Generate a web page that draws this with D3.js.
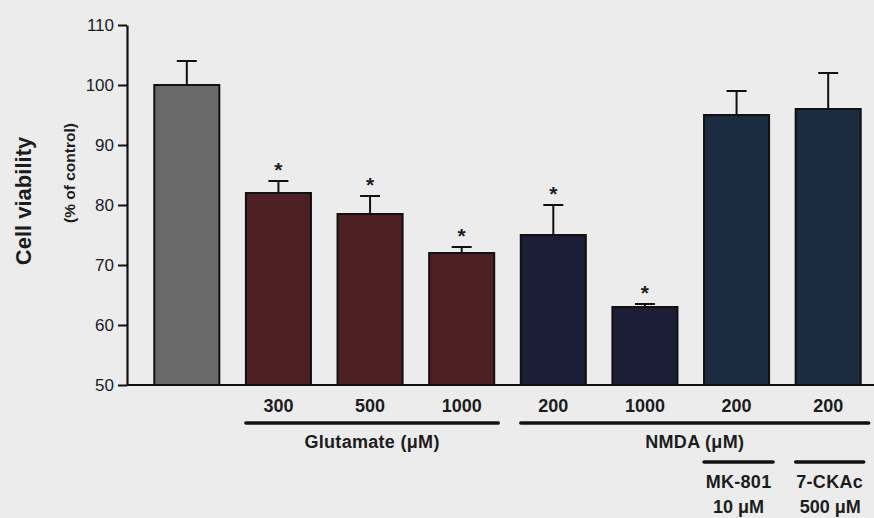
<!DOCTYPE html>
<html>
<head>
<meta charset="utf-8">
<script src="https://cdn.jsdelivr.net/npm/d3@7/dist/d3.min.js"></script>
<style>
  html, body { margin: 0; padding: 0; background: #ececec; }
  svg { display: block; }
  text { font-family: "Liberation Sans", Arial, sans-serif; fill: #1c1c1c; }
</style>
</head>
<body>
<svg id="chart" width="874" height="518"></svg>
<script>
// Treatment groups, left to right
const categories = ["control", "glu300", "glu500", "glu1000", "nmda200", "nmda1000", "nmda200_mk801", "nmda200_7ckac"];
const doseLabels = ["", "300", "500", "1000", "200", "1000", "200", "200"];
// Mean cell viability (% of control) and upper error (SEM)
const meanValues = [100, 82, 78.5, 72, 75, 63, 95, 96];
const errorValues = [4, 2, 3, 1, 5, 0.5, 4, 6];
const significant = [false, true, true, true, true, true, false, false];
const barColors = ["#6a6a6a", "#4d2024", "#4d2024", "#4d2024", "#1b1e36", "#1b1e36", "#1c2c40", "#1c2c40"];
const yTicks = [50, 60, 70, 80, 90, 100, 110];

const svg = d3.select("#chart");
const axisX = 127, baseY = 385, topY = 25;

const x = d3.scaleBand()
  .domain(categories)
  .range([141, 874])
  .paddingInner(0.29)
  .paddingOuter(0.145);

const y = d3.scaleLinear().domain([50, 110]).range([baseY, topY]);

// Bars
svg.selectAll("rect.bar")
  .data(categories)
  .join("rect")
  .attr("class", "bar")
  .attr("x", d => x(d))
  .attr("y", (d, i) => y(meanValues[i]))
  .attr("width", x.bandwidth())
  .attr("height", (d, i) => baseY - y(meanValues[i]))
  .attr("fill", (d, i) => barColors[i])
  .attr("stroke", "#111")
  .attr("stroke-width", 2);

// Upper error bars
const capHalf = 10;
const err = svg.append("g").attr("stroke", "#111").attr("stroke-width", 2);
categories.forEach((c, i) => {
  const cx = x(c) + x.bandwidth() / 2;
  const top = y(meanValues[i] + errorValues[i]);
  err.append("line").attr("x1", cx).attr("x2", cx).attr("y1", y(meanValues[i])).attr("y2", top);
  err.append("line").attr("x1", cx - capHalf).attr("x2", cx + capHalf).attr("y1", top).attr("y2", top);
});

// Significance markers
svg.selectAll("text.star")
  .data(categories.filter((c, i) => significant[i]))
  .join("text")
  .attr("class", "star")
  .attr("x", d => x(d) + x.bandwidth() / 2)
  .attr("y", d => { const i = categories.indexOf(d); return y(meanValues[i] + errorValues[i]) - 4; })
  .attr("text-anchor", "middle")
  .attr("font-size", 21)
  .attr("font-weight", "bold")
  .text("*");

// Y axis
const yAxis = d3.axisLeft(y).tickValues(yTicks).tickSize(9).tickPadding(4).tickSizeOuter(0);
const gy = svg.append("g").attr("transform", `translate(${axisX},0)`).call(yAxis);
gy.select(".domain").attr("stroke", "#111").attr("stroke-width", 2.2);
gy.selectAll(".tick line").attr("stroke", "#111").attr("stroke-width", 2);
gy.selectAll(".tick text")
  .attr("font-size", 17)
  .attr("font-family", "Liberation Sans, Arial, sans-serif")
  .attr("fill", "#1c1c1c");

// X baseline
svg.append("line")
  .attr("x1", axisX).attr("x2", 874)
  .attr("y1", baseY).attr("y2", baseY)
  .attr("stroke", "#111").attr("stroke-width", 2.2);

// Y axis titles
svg.append("text")
  .attr("transform", `translate(31,${201}) rotate(-90)`)
  .attr("text-anchor", "middle")
  .attr("font-size", 22)
  .attr("font-weight", "bold")
  .text("Cell viability");
svg.append("text")
  .attr("transform", `translate(75,${173}) rotate(-90)`)
  .attr("text-anchor", "middle")
  .attr("font-size", 15.5)
  .attr("font-weight", "bold")
  .text("(% of control)");

// Dose labels under the bars
svg.selectAll("text.dose")
  .data(categories)
  .join("text")
  .attr("class", "dose")
  .attr("x", d => x(d) + x.bandwidth() / 2)
  .attr("y", 412)
  .attr("text-anchor", "middle")
  .attr("font-size", 18)
  .attr("font-weight", "bold")
  .text((d, i) => doseLabels[i]);

// Group brackets and labels
const groups = [
  { from: "glu300", to: "glu1000", label: "Glutamate (\u03bcM)", y: 423, ty: 448, extra: 4 },
  { from: "nmda200", to: "nmda200_7ckac", label: "NMDA (\u03bcM)", y: 423, ty: 448, extra: 8 },
  { from: "nmda200_mk801", to: "nmda200_mk801", label: "MK-801", y: 462, ty: 488, extra: 4 },
  { from: "nmda200_7ckac", to: "nmda200_7ckac", label: "7-CKAc", y: 462, ty: 488, extra: 3 }
];
groups.forEach(g => {
  const x1 = x(g.from), x2 = x(g.to) + x.bandwidth() + g.extra;
  svg.append("line")
    .attr("x1", x1).attr("x2", x2)
    .attr("y1", g.y).attr("y2", g.y)
    .attr("stroke", "#111").attr("stroke-width", 3.5)
    .attr("stroke-linecap", "round");
  svg.append("text")
    .attr("x", (x1 + x2) / 2)
    .attr("y", g.ty)
    .attr("text-anchor", "middle")
    .attr("font-size", 18)
    .attr("font-weight", "bold")
    .attr("letter-spacing", 0.3)
    .text(g.label);
});

// Antagonist concentrations
const antagonistDoses = [["nmda200_mk801", "10 \u03bcM"], ["nmda200_7ckac", "500 \u03bcM"]];
antagonistDoses.forEach(([c, t]) => {
  svg.append("text")
    .attr("x", x(c) + x.bandwidth() / 2 + 2)
    .attr("y", 513)
    .attr("text-anchor", "middle")
    .attr("font-size", 18)
    .attr("font-weight", "bold")
    .text(t);
});
</script>
</body>
</html>
